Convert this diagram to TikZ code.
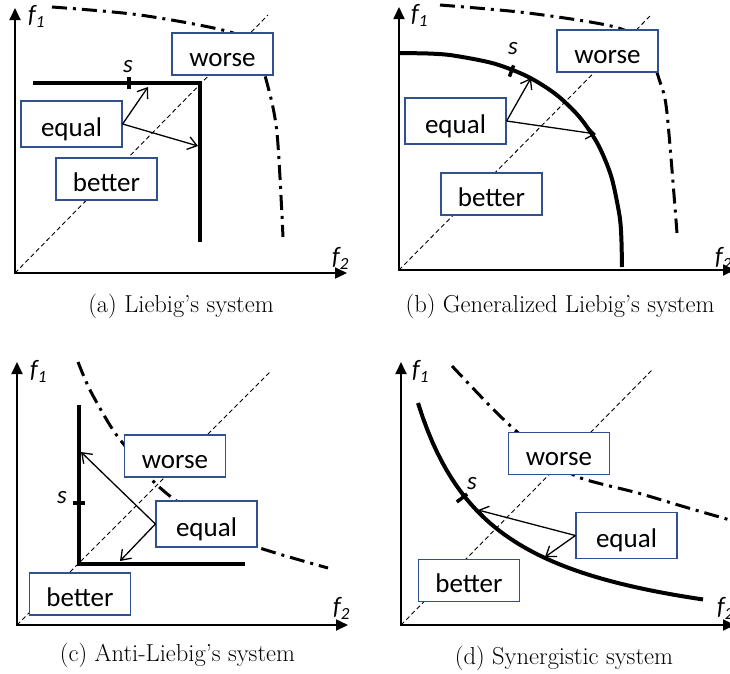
\documentclass[tikz,border=0pt]{standalone}
\usepackage{fontspec}
\newfontfamily\carlito{Carlito}
\usetikzlibrary{arrows.meta}
\definecolor{boxblue}{RGB}{47,82,143}
\newcommand\fsub[1]{f\raisebox{-5pt}{\fontsize{17}{17}\selectfont #1}}
\tikzset{
  axarrow/.style={line width=1.8pt, {Triangle[length=12pt,width=11pt]}-{Triangle[length=12pt,width=11pt]}},
  diag/.style={line width=0.9pt, dash pattern=on 4.5pt off 3pt},
  frontier/.style={line width=3pt, dash pattern=on 15pt off 6pt on 3pt off 6pt},
  thickcurve/.style={line width=4pt},
  rbox/.style={draw=boxblue, line width=1.2pt, fill=white, inner sep=0pt,
    minimum width=101pt, minimum height=42pt, text height=30pt, text depth=6pt,
    font=\carlito\fontsize{27}{30}\selectfont},
  eqbox/.style={rbox, minimum height=46pt},
  ptr/.style={line width=1.3pt, -{Straight Barb[length=9pt,width=13pt]}},
  stick/.style={line width=3.5pt},
  slab/.style={font=\carlito\itshape\fontsize{25}{28}\selectfont, inner sep=0pt},
  axlab/.style={font=\carlito\itshape\fontsize{25}{28}\selectfont, inner sep=0pt, anchor=base west},
  capt/.style={font=\fontsize{24.5}{28}\selectfont, inner sep=0pt}
}
\begin{document}
\begin{tikzpicture}[x=1pt,y=-1pt]
\useasboundingbox (0,0) rectangle (730,673);
% ---------------- panel (a)
\coordinate (aO) at (15,273);
\coordinate (aY) at (15,8);
\coordinate (aX) at (347,273);
\coordinate (aD) at (268,15);
\draw[diag] (aO) -- (aD);
\draw[frontier] plot[smooth] coordinates {(52,7) (140,15) (230,32) (255,50) (267,83) (277,133) (283,237)};
\draw[thickcurve, line join=miter] (33,83) -- (200,83) -- (200,242);
\draw[stick] (129,77) -- (129,89);
\node[slab] (aS) at (128,67) {s};
\node[rbox] (aW) at (222.5,54) {worse};
\node[eqbox] (aE) at (71.5,124) {equal\hspace{9pt}};
\node[rbox] (aB) at (106.5,179) {better};
\coordinate (aT1) at (148,87);
\coordinate (aT2) at (198,146);
\draw[ptr] (aE.east) -- (aT1);
\draw[ptr] (aE.east) -- (aT2);
\draw[axarrow] (aY) -- (aO) -- (aX);
\node[axlab] (aF1) at (28,22) {\fsub{1}};
\node[axlab] (aF2) at (332,264) {\fsub{2}};
\node[capt] (aC) at (181,306) {(a) Liebig's system};
% ---------------- panel (b)
\coordinate (bO) at (399,270);
\coordinate (bY) at (399,7);
\coordinate (bX) at (735,270);
\coordinate (bD) at (652,14);
\draw[diag] (bO) -- (bD);
\draw[frontier] plot[smooth] coordinates {(440,5) (528,13) (615,27) (645,45) (660,82) (667,113) (677,233)};
\draw[thickcurve] plot[smooth] coordinates {(399,53) (430.7,53.6) (453.9,55.6) (493.5,63.4) (527.1,76.3) (555.6,94.1) (579.2,116.7) (597.8,144.1) (611.2,176.3) (619.3,214.3) (621.3,236.6) (622,267)};
\draw[stick] (513.6,65.4) -- (509.4,76.6);
\node[slab] (bS) at (513,49) {s};
\node[rbox] (bW) at (607.5,51) {worse};
\node[eqbox] (bE) at (455.5,121) {equal\hspace{9pt}};
\node[rbox] (bB) at (491.5,194) {better};
\coordinate (bT1) at (531,78);
\coordinate (bT2) at (596,134);
\draw[ptr] (bE.east) -- (bT1);
\draw[ptr] (bE.east) -- (bT2);
\draw[axarrow] (bY) -- (bO) -- (bX);
\node[axlab] (bF1) at (411,21) {\fsub{1}};
\node[axlab] (bF2) at (715,264) {\fsub{2}};
\node[capt] (bC) at (560,306) {(b) Generalized Liebig's system};
% ---------------- panel (c)
\coordinate (cO) at (17,625);
\coordinate (cY) at (17,362);
\coordinate (cX) at (348,625);
\coordinate (cD) at (270,372);
\draw[diag] (cO) -- (cD);
\draw[frontier] plot[smooth] coordinates {(78,362) (90,390) (113,430) (135,458) (152,480) (175,500) (215,527) (257,547) (328,568)};
\draw[thickcurve, line join=miter] (79,405) -- (79,564) -- (245,564);
\draw[stick] (73,503) -- (85,503);
\node[slab] (cS) at (62,498) {s};
\node[rbox] (cW) at (175,456) {worse};
\node[eqbox] (cE) at (206.5,524) {equal\hspace{9pt}};
\node[rbox] (cB) at (80,594) {better};
\coordinate (cT1) at (81,452);
\coordinate (cT2) at (120,561);
\draw[ptr] (cE.west) -- (cT1);
\draw[ptr] (cE.west) -- (cT2);
\draw[axarrow] (cY) -- (cO) -- (cX);
\node[axlab] (cF1) at (30,377) {\fsub{1}};
\node[axlab] (cF2) at (333,614) {\fsub{2}};
\node[capt] (cC) at (177.5,655) {(c) Anti-Liebig's system};
% ---------------- panel (d)
\coordinate (dO) at (401,625);
\coordinate (dY) at (401,362);
\coordinate (dX) at (735,625);
\coordinate (dD) at (653,369);
\draw[diag] (dO) -- (dD);
\draw[frontier] plot[smooth] coordinates {(452,366) (490,406) (515,430) (545,455) (578,477) (638,493) (685,507) (730,520)};
\draw[thickcurve] plot[domain=418:703, samples=60] (\x, {653.2 - 195.14/((\x-340)/100)});
\draw[stick] (456.8,501.9) -- (467.2,494.1);
\node[slab] (dS) at (472,483.5) {s};
\node[rbox] (dW) at (559,453.5) {worse};
\node[eqbox] (dE) at (626.5,535.5) {equal\hspace{9pt}};
\node[rbox] (dB) at (469,580.5) {better};
\coordinate (dT1) at (478,510);
\coordinate (dT2) at (545,557);
\draw[ptr] (dE.west) -- (dT1);
\draw[ptr] (dE.west) -- (dT2);
\draw[axarrow] (dY) -- (dO) -- (dX);
\node[axlab] (dF1) at (412,377) {\fsub{1}};
\node[axlab] (dF2) at (717,614) {\fsub{2}};
\node[capt] (dC) at (564,658) {(d) Synergistic system};
\end{tikzpicture}
\end{document}
